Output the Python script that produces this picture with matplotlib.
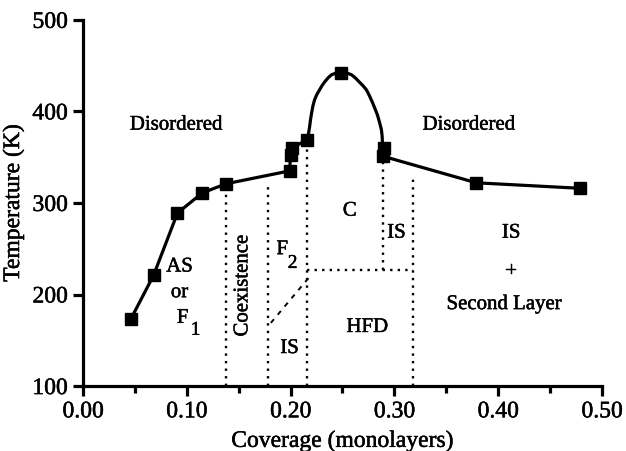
import matplotlib
matplotlib.use("Agg")
import matplotlib.pyplot as plt
import matplotlib.patheffects as pe
from matplotlib.ticker import MultipleLocator

# measured phase-boundary points (coverage, temperature)
coverage_left = [0.046, 0.068, 0.091, 0.115, 0.138, 0.199, 0.200, 0.201, 0.216]
temp_left = [173, 221, 289, 311, 321, 335, 352, 360, 369]

coverage_right = [0.290, 0.289, 0.379, 0.479]
temp_right = [360, 351, 322, 316]

coverage_peak = [0.249]
temp_peak = [442]

# dome of the commensurate (C) phase
dome_x = [0.2163, 0.2173, 0.2183, 0.2192, 0.2202, 0.2215, 0.2231, 0.2253, 0.2279,
          0.2302, 0.2327, 0.2360, 0.2394, 0.2440, 0.2490, 0.2540, 0.2587,
          0.2625, 0.2663, 0.2698, 0.2731, 0.2760, 0.2788, 0.2813, 0.2837,
          0.2857, 0.2875, 0.2882, 0.2885, 0.2892, 0.2900]
dome_y = [369, 376, 383, 391, 398, 406, 412.6, 418.5, 423.5,
          428, 432, 436.5, 440, 442, 443, 442, 440,
          436.5, 432, 428, 423.5, 417, 410, 403, 396,
          388, 380, 373, 366, 361, 358]

# dotted phase boundaries: (x, y_bottom, y_top)
vlines = [(0.138, 100, 320), (0.178, 100, 323), (0.216, 100, 366),
          (0.289, 227, 350), (0.318, 100, 330)]
hline = (227, 0.216, 0.318)
diag_x = [0.181, 0.218]
diag_y = [169, 219]

fig = plt.figure(figsize=(6.26, 4.51), dpi=100)
ax = fig.add_axes([0.1326, 0.144, 0.829, 0.812])

serif = "Liberation Serif"
plt.rcParams["font.family"] = serif
heavy = [pe.withStroke(linewidth=0.35, foreground="black")]

lw = 2.3
ax.plot(coverage_left, temp_left, color="black", lw=lw, solid_joinstyle="round", zorder=3)
ax.plot(dome_x, dome_y, color="black", lw=lw, solid_joinstyle="round",
        solid_capstyle="round", zorder=3)
ax.plot(coverage_right, temp_right, color="black", lw=lw, solid_joinstyle="round", zorder=3)
for xs, ys in [(coverage_left, temp_left), (coverage_right, temp_right), (coverage_peak, temp_peak)]:
    ax.plot(xs, ys, ls="none", marker="s", ms=8.5, color="black", zorder=4)

for x, y0, y1 in vlines:
    ax.plot([x, x], [y0, y1], color="black", lw=1.7, ls=(0, (1, 2.2)), zorder=2)
ax.plot([hline[1], hline[2]], [hline[0], hline[0]], color="black", lw=1.7, ls=(0, (1, 2.2)), zorder=2)
ax.plot(diag_x, diag_y, color="black", lw=1.4, ls=(0, (2.5, 3)), zorder=2)

fs = 15
def t(x, y, s, size=fs, **kw):
    ax.text(x, y, s, ha="center", va="center", fontsize=size, family=serif,
            path_effects=heavy, **kw)

t(0.090, 385, "Disordered")
t(0.372, 385, "Disordered")
t(0.257, 291, "C")
t(0.302, 267, "IS")
t(0.4125, 267, "IS")
t(0.4125, 225, "+")
t(0.406, 189, "Second Layer")
t(0.274, 164, "HFD")
t(0.093, 230, "AS")
t(0.093, 202, "or")
t(0.096, 174, "F")
t(0.1085, 161, "1", size=14)
t(0.192, 249, "F")
t(0.2020, 234, "2", size=14)
t(0.154, 210, "Coexistence", rotation=90)
t(0.199, 141, "IS")

ax.set_xlim(0, 0.5)
ax.set_ylim(100, 500)
ax.xaxis.set_minor_locator(MultipleLocator(0.05))
ax.yaxis.set_major_locator(MultipleLocator(100))
ax.set_xticks([0, 0.1, 0.2, 0.3, 0.4, 0.5])
ax.set_xticklabels(["0.00", "0.10", "0.20", "0.30", "0.40", "0.50"])
for sp in ["top", "right"]:
    ax.spines[sp].set_visible(False)
for sp in ["left", "bottom"]:
    ax.spines[sp].set_linewidth(2.3)
ax.tick_params(which="major", direction="out", length=7, width=2.3, labelsize=17, pad=4)
ax.tick_params(which="minor", direction="out", length=5, width=2.3)
for lab in ax.get_xticklabels() + ax.get_yticklabels():
    lab.set_family(serif)
    lab.set_path_effects(heavy)
ax.set_xlabel("Coverage (monolayers)", fontsize=17, family=serif, labelpad=6,
              path_effects=heavy)
ax.set_ylabel("Temperature (K)", fontsize=17, family=serif, labelpad=6,
              path_effects=heavy)

fig.savefig("out.png", dpi=100)
